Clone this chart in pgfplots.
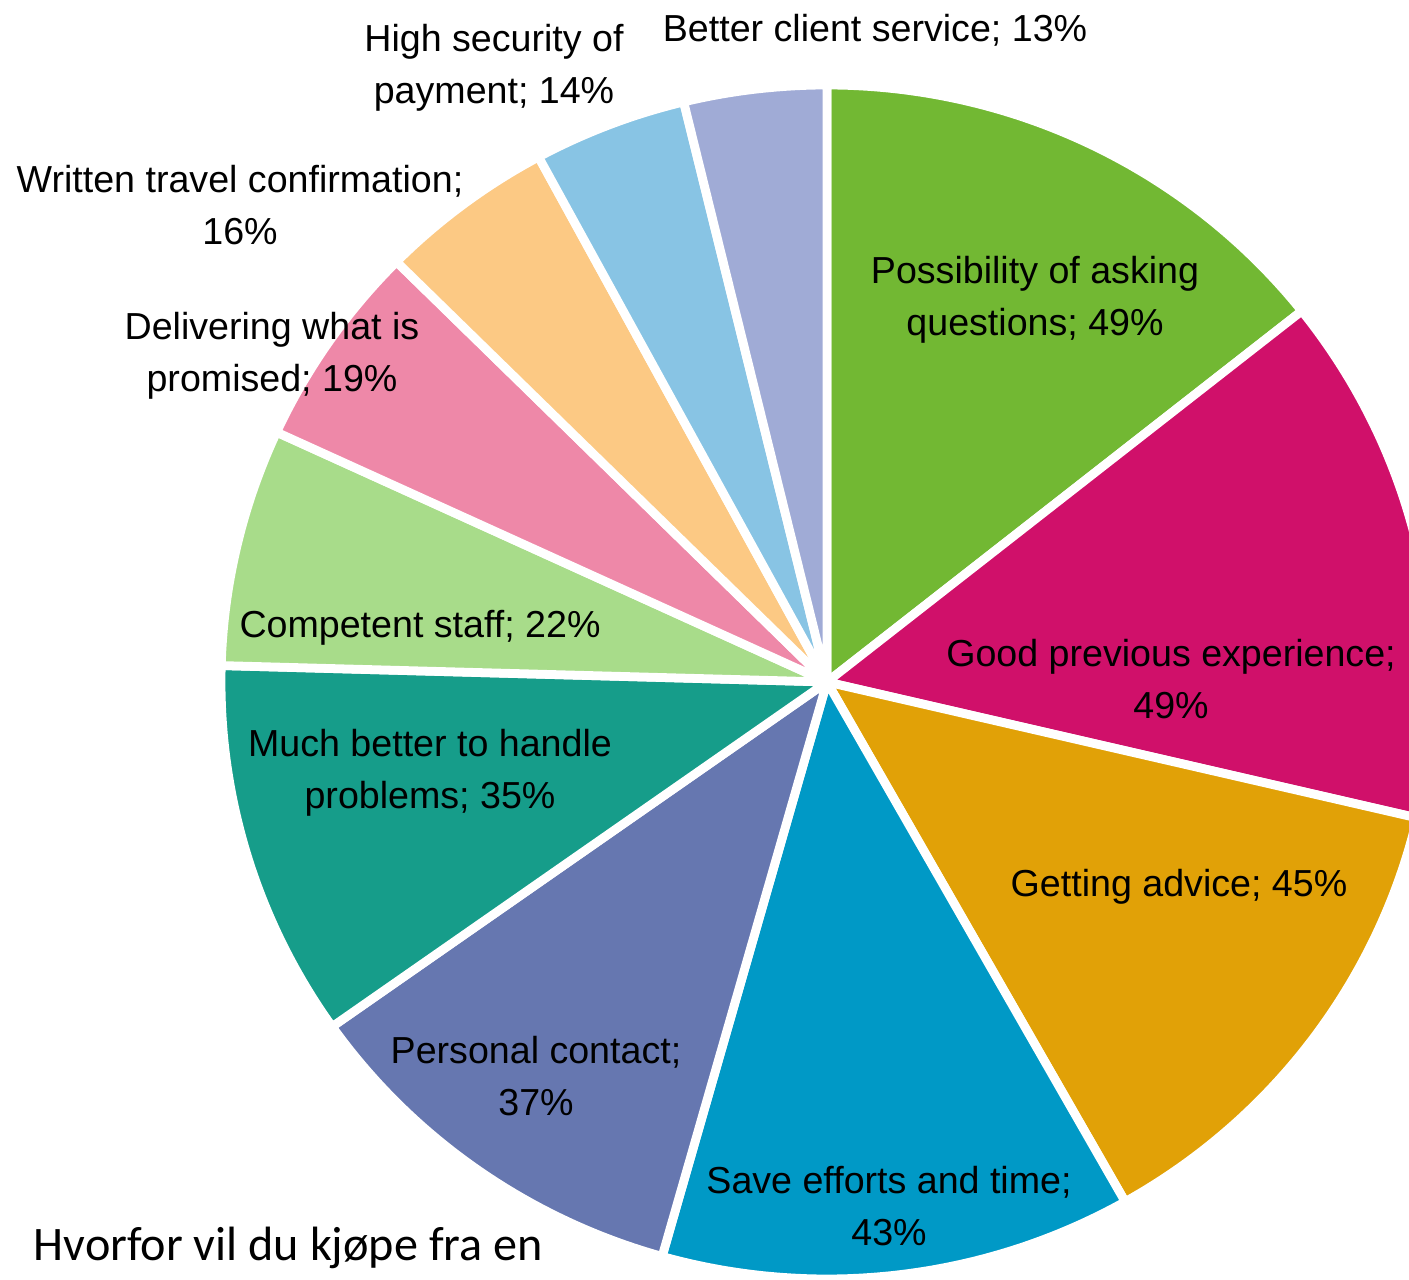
\documentclass[border=0pt]{standalone}
\usepackage{pgfplots}
\pgfplotsset{compat=1.18}
\usepackage{pgfplotstable}
\usepackage{fontspec}
\setmainfont{Liberation Sans}
\newfontfamily\calibri{Carlito}

\definecolor{c0}{HTML}{72B833}
\definecolor{c1}{HTML}{D0106A}
\definecolor{c2}{HTML}{E1A107}
\definecolor{c3}{HTML}{0099C6}
\definecolor{c4}{HTML}{6677B0}
\definecolor{c5}{HTML}{169D8A}
\definecolor{c6}{HTML}{A8DC8A}
\definecolor{c7}{HTML}{EE88A8}
\definecolor{c8}{HTML}{FCC984}
\definecolor{c9}{HTML}{88C4E4}
\definecolor{c10}{HTML}{A0ABD6}

\pgfplotstableread[col sep=comma]{
label,value
Possibility of asking questions,49
Good previous experience,49
Getting advice,45
Save efforts and time,43
Personal contact,37
Much better to handle problems,35
Competent staff,22
Delivering what is promised,19
Written travel confirmation,16
High security of payment,14
Better client service,13
}\piedata

\begin{document}
\begin{tikzpicture}
\path[use as bounding box] (0,0) rectangle (140.9mm,128mm);
\begin{axis}[at={(0,0)}, anchor=south west, width=140.9mm, height=128mm,
  scale only axis, xmin=0, xmax=1409, ymin=0, ymax=1280, y dir=reverse,
  hide axis, clip=true]
\xdef\pieTot{0}
\pgfplotsinvokeforeach{0,...,10}{%
  \pgfplotstablegetelem{#1}{value}\of\piedata
  \pgfmathparse{\pieTot+\pgfplotsretval}\xdef\pieTot{\pgfmathresult}%
}
\pgfmathsetmacro\pieK{360/\pieTot}
\xdef\pieK{\pieK}
\xdef\pieCum{0}
\pgfplotsinvokeforeach{0,...,10}{%
  \pgfplotstablegetelem{#1}{value}\of\piedata
  \pgfmathsetmacro\pieV{\pgfplotsretval}%
  \pgfmathsetmacro\pieA{90-\pieK*\pieCum}%
  \pgfmathsetmacro\pieB{90-\pieK*(\pieCum+\pieV)}%
  \addplot[fill=c#1, draw=white, line width=2.5pt, line join=round,
    domain=\pieB:\pieA, samples=80, variable=\t]
    ({827+606*cos(\t)},{682-597*sin(\t)}) -- (axis cs:827,682) -- cycle;
  \pgfmathparse{\pieCum+\pieV}\xdef\pieCum{\pgfmathresult}%
}
\tikzset{lab/.style={align=center, inner sep=0pt, text=black,
  font=\fontsize{10.7}{14.8}\selectfont}}
\node[lab] at (axis cs:1035,300) {Possibility of asking\\questions; 49\%};
\node[lab] at (axis cs:1171,679) {Good previous experience;\\49\%};
\node[lab] at (axis cs:1179,887) {Getting advice; 45\%};
\node[lab] at (axis cs:889,1206) {Save efforts and time;\\43\%};
\node[lab] at (axis cs:536,1076) {Personal contact;\\37\%};
\node[lab] at (axis cs:430,773) {Much better to handle\\problems; 35\%};
\node[lab] at (axis cs:420,628) {Competent staff; 22\%};
\node[lab] at (axis cs:272,356) {Delivering what is\\promised; 19\%};
\node[lab] at (axis cs:240,205) {Written travel confirmation;\\16\%};
\node[lab] at (axis cs:494,68) {High security of\\payment; 14\%};
\node[lab] at (axis cs:875,30) {Better client service; 13\%};
\node[anchor=base west, inner sep=0pt, font=\calibri\fontsize{13.7}{16}\selectfont]
  at (axis cs:33,1260) {Hvorfor vil du kjøpe fra en};
\end{axis}
\end{tikzpicture}
\end{document}
